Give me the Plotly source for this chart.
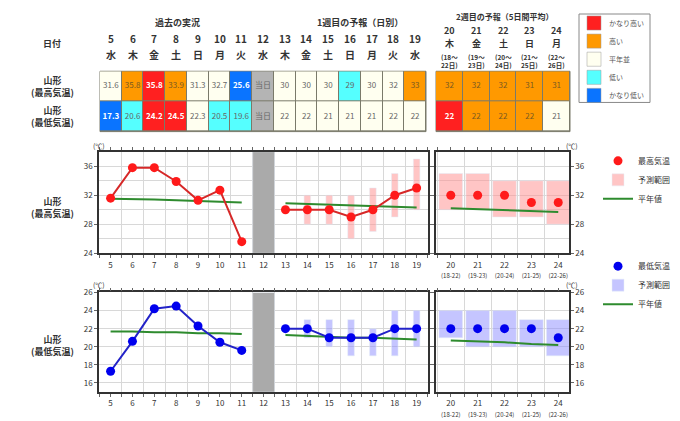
import plotly.graph_objects as go

W, H = 680, 421
FONT = "Noto Sans CJK JP"
OFF = 8  # page body margin

# ---- data ----
days1 = list(range(5, 20))
wd1 = ["水", "木", "金", "土", "日", "月", "火", "水", "木", "金", "土", "日", "月", "火", "水"]
hi1_txt = ["31.6", "35.8", "35.8", "33.9", "31.3", "32.7", "25.6", "当日", "30", "30", "30", "29", "30", "32", "33"]
lo1_txt = ["17.3", "20.6", "24.2", "24.5", "22.3", "20.5", "19.6", "当日", "22", "22", "21", "21", "21", "22", "22"]
# 0 平年並, 1 高い, 2 かなり高い, 3 低い, 4 かなり低い, 5 当日
hi1_cls = [0, 1, 2, 1, 0, 0, 4, 5, 0, 0, 0, 3, 0, 0, 1]
lo1_cls = [4, 3, 2, 2, 0, 3, 3, 5, 0, 0, 0, 0, 0, 0, 0]

days2 = [20, 21, 22, 23, 24]
wd2 = ["木", "金", "土", "日", "月"]
per2 = ["(18～<br>22日)", "(19～<br>23日)", "(20～<br>24日)", "(21～<br>25日)", "(22～<br>26日)"]
per2_short = ["(18-22)", "(19-23)", "(20-24)", "(21-25)", "(22-26)"]
hi2_txt = ["32", "32", "32", "31", "31"]
lo2_txt = ["22", "22", "22", "22", "21"]
hi2_cls = [1, 1, 1, 1, 1]
lo2_cls = [2, 1, 1, 1, 0]

past_days = [5, 6, 7, 8, 9, 10, 11]
past_hi = [31.6, 35.8, 35.8, 33.9, 31.3, 32.7, 25.6]
past_lo = [17.3, 20.6, 24.2, 24.5, 22.3, 20.5, 19.6]
wk1_days = [13, 14, 15, 16, 17, 18, 19]
wk1_hi = [30, 30, 30, 29, 30, 32, 33]
wk1_lo = [22, 22, 21, 21, 21, 22, 22]
rng_days = [14, 15, 16, 17, 18, 19]
rng_hi_bot = [28, 28, 26, 27, 29, 30]
rng_hi_top = [32, 32, 32, 33, 35, 37]
rng_lo_bot = [21, 20, 19, 19, 19, 20]
rng_lo_top = [23, 23, 23, 22, 24, 24]
wk2_hi = [32, 32, 32, 31, 31]
wk2_lo = [22, 22, 22, 22, 21]
wk2_hi_bot = [30, 30, 29, 29, 28]
wk2_hi_top = [35, 35, 34, 34, 34]
wk2_lo_bot = [21, 20, 20, 20, 19]
wk2_lo_top = [24, 24, 24, 23, 23]
nrm_past_hi = [31.5, 31.5, 31.4, 31.3, 31.2, 31.1, 31.0]
nrm_wk1_hi = [30.9, 30.8, 30.7, 30.6, 30.5, 30.4, 30.3]
nrm_wk2_hi = [30.2, 30.1, 30.0, 29.8, 29.7]
nrm_past_lo = [21.7, 21.7, 21.6, 21.6, 21.5, 21.5, 21.4]
nrm_wk1_lo = [21.3, 21.2, 21.1, 21.0, 21.0, 20.9, 20.8]
nrm_wk2_lo = [20.7, 20.6, 20.5, 20.3, 20.2]

legend_labels = ["かなり高い", "高い", "平年並", "低い", "かなり低い"]
CLS_COLORS = ["#fffff0", "#ff9900", "#ff2020", "#55ffff", "#0a74ff", "#b4b4b4"]
legend_colors = [CLS_COLORS[2], CLS_COLORS[1], CLS_COLORS[0], CLS_COLORS[3], CLS_COLORS[4]]

RED, PINK = "#ff1a1a", "rgba(255,150,150,0.55)"
BLUE, LBLUE = "#0000ee", "rgba(140,140,255,0.5)"
GREEN = "#2e8b2e"
LINE = "#d62828"
BLINE = "#2323c8"


def px(x):
    return (x - OFF) / W


def py(y):
    y = (y - 7.3) / 0.9685
    return min(1, 1 - (y - OFF) / H)


def cscale():
    n = len(CLS_COLORS)
    s = []
    for i, c in enumerate(CLS_COLORS):
        s.append([i / n, c])
        s.append([(i + 1) / n, c])
    return s


def txtcol(cls):
    return ["white" if c in (2, 4) else ("#7a5a20" if c == 1 else "#666") for c in cls]


fig = go.Figure()

# ---- tables ----
for xa, ya, xs, hc, lc, ht, lt in [
    ("x", "y", days1, hi1_cls, lo1_cls, hi1_txt, lo1_txt),
    ("x2", "y2", days2, hi2_cls, lo2_cls, hi2_txt, lo2_txt),
]:
    fig.add_trace(go.Heatmap(x=xs, y=[0, 1], z=[lc, hc], zmin=-0.5, zmax=5.5, colorscale=cscale(),
                             showscale=False, xgap=1, ygap=1, xaxis=xa, yaxis=ya, hoverinfo="skip"))
    for row, t, c in [(1, ht, hc), (0, lt, lc)]:
        lab = [("<b>%s</b>" % v) if k in (2, 4) else v for v, k in zip(t, c)]
        fig.add_trace(go.Scatter(x=xs, y=[row] * len(xs), mode="text", text=lab,
                                 textfont=dict(size=8, color=txtcol(c), family=FONT),
                                 xaxis=xa, yaxis=ya, showlegend=False, hoverinfo="skip"))

# ---- high charts ----
fig.add_trace(go.Bar(x=[12], y=[14], base=[24], width=1, marker_color="#aaaaaa",
                     xaxis="x3", yaxis="y3", showlegend=False))
fig.add_trace(go.Bar(x=rng_days, y=[t - b for t, b in zip(rng_hi_top, rng_hi_bot)], base=rng_hi_bot,
                     width=0.3, marker_color=PINK, xaxis="x3", yaxis="y3", showlegend=False))
fig.add_trace(go.Bar(x=days2, y=[t - b for t, b in zip(wk2_hi_top, wk2_hi_bot)], base=wk2_hi_bot,
                     width=0.88, marker_color=PINK, xaxis="x4", yaxis="y4", name="予測範囲",
                     legend="legend", legendrank=2))
for xs, ys in [(past_days, nrm_past_hi), (wk1_days, nrm_wk1_hi)]:
    fig.add_trace(go.Scatter(x=xs, y=ys, mode="lines", line=dict(color=GREEN, width=2),
                             xaxis="x3", yaxis="y3", showlegend=False))
fig.add_trace(go.Scatter(x=days2, y=nrm_wk2_hi, mode="lines", line=dict(color=GREEN, width=2),
                         xaxis="x4", yaxis="y4", name="平年値", legend="legend", legendrank=3))
for xs, ys in [(past_days, past_hi), (wk1_days, wk1_hi)]:
    fig.add_trace(go.Scatter(x=xs, y=ys, mode="lines+markers", line=dict(color=LINE, width=2),
                             marker=dict(color=RED, size=9), xaxis="x3", yaxis="y3", showlegend=False))
fig.add_trace(go.Scatter(x=days2, y=wk2_hi, mode="markers", marker=dict(color=RED, size=9),
                         xaxis="x4", yaxis="y4", name="最高気温", legend="legend", legendrank=1))

# ---- low charts ----
fig.add_trace(go.Bar(x=[12], y=[11], base=[15], width=1, marker_color="#aaaaaa",
                     xaxis="x5", yaxis="y5", showlegend=False))
fig.add_trace(go.Bar(x=rng_days, y=[t - b for t, b in zip(rng_lo_top, rng_lo_bot)], base=rng_lo_bot,
                     width=0.3, marker_color=LBLUE, xaxis="x5", yaxis="y5", showlegend=False))
fig.add_trace(go.Bar(x=days2, y=[t - b for t, b in zip(wk2_lo_top, wk2_lo_bot)], base=wk2_lo_bot,
                     width=0.88, marker_color=LBLUE, xaxis="x6", yaxis="y6", name="予測範囲",
                     legend="legend2", legendrank=2))
for xs, ys in [(past_days, nrm_past_lo), (wk1_days, nrm_wk1_lo)]:
    fig.add_trace(go.Scatter(x=xs, y=ys, mode="lines", line=dict(color=GREEN, width=2),
                             xaxis="x5", yaxis="y5", showlegend=False))
fig.add_trace(go.Scatter(x=days2, y=nrm_wk2_lo, mode="lines", line=dict(color=GREEN, width=2),
                         xaxis="x6", yaxis="y6", name="平年値", legend="legend2", legendrank=3))
for xs, ys in [(past_days, past_lo), (wk1_days, wk1_lo)]:
    fig.add_trace(go.Scatter(x=xs, y=ys, mode="lines+markers", line=dict(color=BLINE, width=2),
                             marker=dict(color=BLUE, size=9), xaxis="x5", yaxis="y5", showlegend=False))
fig.add_trace(go.Scatter(x=days2, y=wk2_lo, mode="markers", marker=dict(color=BLUE, size=9),
                         xaxis="x6", yaxis="y6", name="最低気温", legend="legend2", legendrank=1))

# ---- axes ----
tbl_y = [py(132), py(72)]
hid = dict(showgrid=False, zeroline=False, showticklabels=False, ticks="")
P1 = [px(99), px(428)]
P2 = [px(436), px(569)]
HI = [py(253), py(152)]
LO = [py(391), py(292)]

frame = dict(showline=True, linecolor="#333", linewidth=1.5, mirror="ticks", zeroline=False,
             ticks="outside", ticklen=3, tickcolor="#666", tickfont=dict(size=8, color="#333"))


def xax(dom, rng, vals, text, yanchor, t0):
    return dict(frame, domain=dom, range=rng, tickvals=vals, ticktext=text, showgrid=False, anchor=yanchor,
                minor=dict(tick0=t0, dtick=1, showgrid=True, gridcolor="#d8d8d8", ticks="outside", ticklen=3))


def yax(dom, rng, dtick, xanchor, side):
    return dict(frame, domain=dom, range=rng, dtick=dtick, showgrid=True, gridcolor="#d8d8d8",
                anchor=xanchor, side=side, minor=dict(dtick=2, showgrid=True, gridcolor="#d8d8d8"))


x2labels = ["%d<br><span style='font-size:6px'>%s</span>" % (d, p) for d, p in zip(days2, per2_short)]
x1labels = [str(d) for d in days1]

fig.update_layout(
    width=W, height=H, margin=dict(l=0, r=0, t=0, b=0),
    paper_bgcolor="white", plot_bgcolor="white", barmode="overlay",
    font=dict(family=FONT, size=9, color="#333"),
    xaxis=dict(hid, domain=[px(100), px(426)], range=[4.5, 19.5], anchor="y"),
    yaxis=dict(hid, domain=tbl_y, range=[-0.5, 1.5], anchor="x"),
    xaxis2=dict(hid, domain=[px(436), px(570)], range=[19.5, 24.5], anchor="y2"),
    yaxis2=dict(hid, domain=tbl_y, range=[-0.5, 1.5], anchor="x2"),
    xaxis3=xax(P1, [4.47, 19.52], days1, x1labels, "y3", 4.5),
    yaxis3=yax(HI, [24, 38], 4, "x3", "left"),
    xaxis4=xax(P2, [19.45, 24.4], days2, x2labels, "y4", 19.5),
    yaxis4=yax(HI, [24, 38], 4, "x4", "right"),
    xaxis5=xax(P1, [4.47, 19.52], days1, x1labels, "y5", 4.5),
    yaxis5=yax(LO, [15, 26], 2, "x5", "left"),
    xaxis6=xax(P2, [19.45, 24.4], days2, x2labels, "y6", 19.5),
    yaxis6=yax(LO, [15, 26], 2, "x6", "right"),
    legend=dict(x=px(598), y=py(180), font=dict(size=8), bgcolor="rgba(0,0,0,0)",
                itemwidth=30, tracegroupgap=0),
    legend2=dict(x=px(598), y=py(318), font=dict(size=8), bgcolor="rgba(0,0,0,0)",
                 itemwidth=30, tracegroupgap=0),
)

# table frame background (shows through gaps)
shapes = [
    dict(type="rect", xref="paper", yref="paper", x0=px(100), x1=px(426), y0=tbl_y[0], y1=tbl_y[1],
         fillcolor="#7a7a6a", line=dict(color="#7a7a6a", width=1), layer="below"),
    dict(type="rect", xref="paper", yref="paper", x0=px(436), x1=px(570), y0=tbl_y[0], y1=tbl_y[1],
         fillcolor="#7a7a6a", line=dict(color="#7a7a6a", width=1), layer="below"),
    dict(type="rect", xref="paper", yref="paper", x0=px(579), x1=px(650), y0=py(103), y1=py(10),
         line=dict(color="#888", width=1), fillcolor="white"),
]
ann = []


def A(x, y, t, size=9, bold=False, color="#333", xa="paper", anchor="center", yanchor="middle"):
    ann.append(dict(x=x, y=y, xref=xa, yref="paper", text=("<b>%s</b>" % t) if bold else t,
                    showarrow=False, font=dict(size=size, color=color), xanchor=anchor, yanchor=yanchor))


# legend box
for i, (lab, col) in enumerate(zip(legend_labels, legend_colors)):
    yc = 24 + i * 18
    shapes.append(dict(type="rect", xref="paper", yref="paper", x0=px(587), x1=px(601),
                       y0=py(yc + 7), y1=py(yc - 7), fillcolor=col, line=dict(color="#999", width=0.5)))
    A(px(607), py(yc), lab, size=7, color="#555", anchor="left")

# titles
A(px(177), 1, "過去の実況", 9, True, yanchor="top")
A(px(360), 1, "1週目の予報（日別）", 9, True, yanchor="top")
A(px(505), 1.012, "2週目の予報（5日間平均）", 8, True, yanchor="top")
A(px(52), py(44), "日付", 9, True)
A(px(52), py(87), "山形<br>(最高気温)", 9, True)
A(px(52), py(117), "山形<br>(最低気温)", 9, True)
A(px(52), py(207), "山形<br>(最高気温)", 9, True)
A(px(52), py(345), "山形<br>(最低気温)", 9, True)
for d, w in zip(days1, wd1):
    A(d, py(39), str(d), 10, True, xa="x")
    A(d, py(55), w, 10, True, xa="x")
for d, w, p in zip(days2, wd2, per2):
    A(d, py(31), str(d), 9, True, xa="x2")
    A(d, py(44), w, 9, True, xa="x2")
    A(d, py(51), p, 6.5, True, xa="x2", yanchor="top")
for yy in (146, 285):
    A(px(99), py(yy), "(℃)", 7)
    A(px(572), py(yy), "(℃)", 7)

fig.update_layout(shapes=shapes, annotations=ann)
fig.write_html("out.html")
